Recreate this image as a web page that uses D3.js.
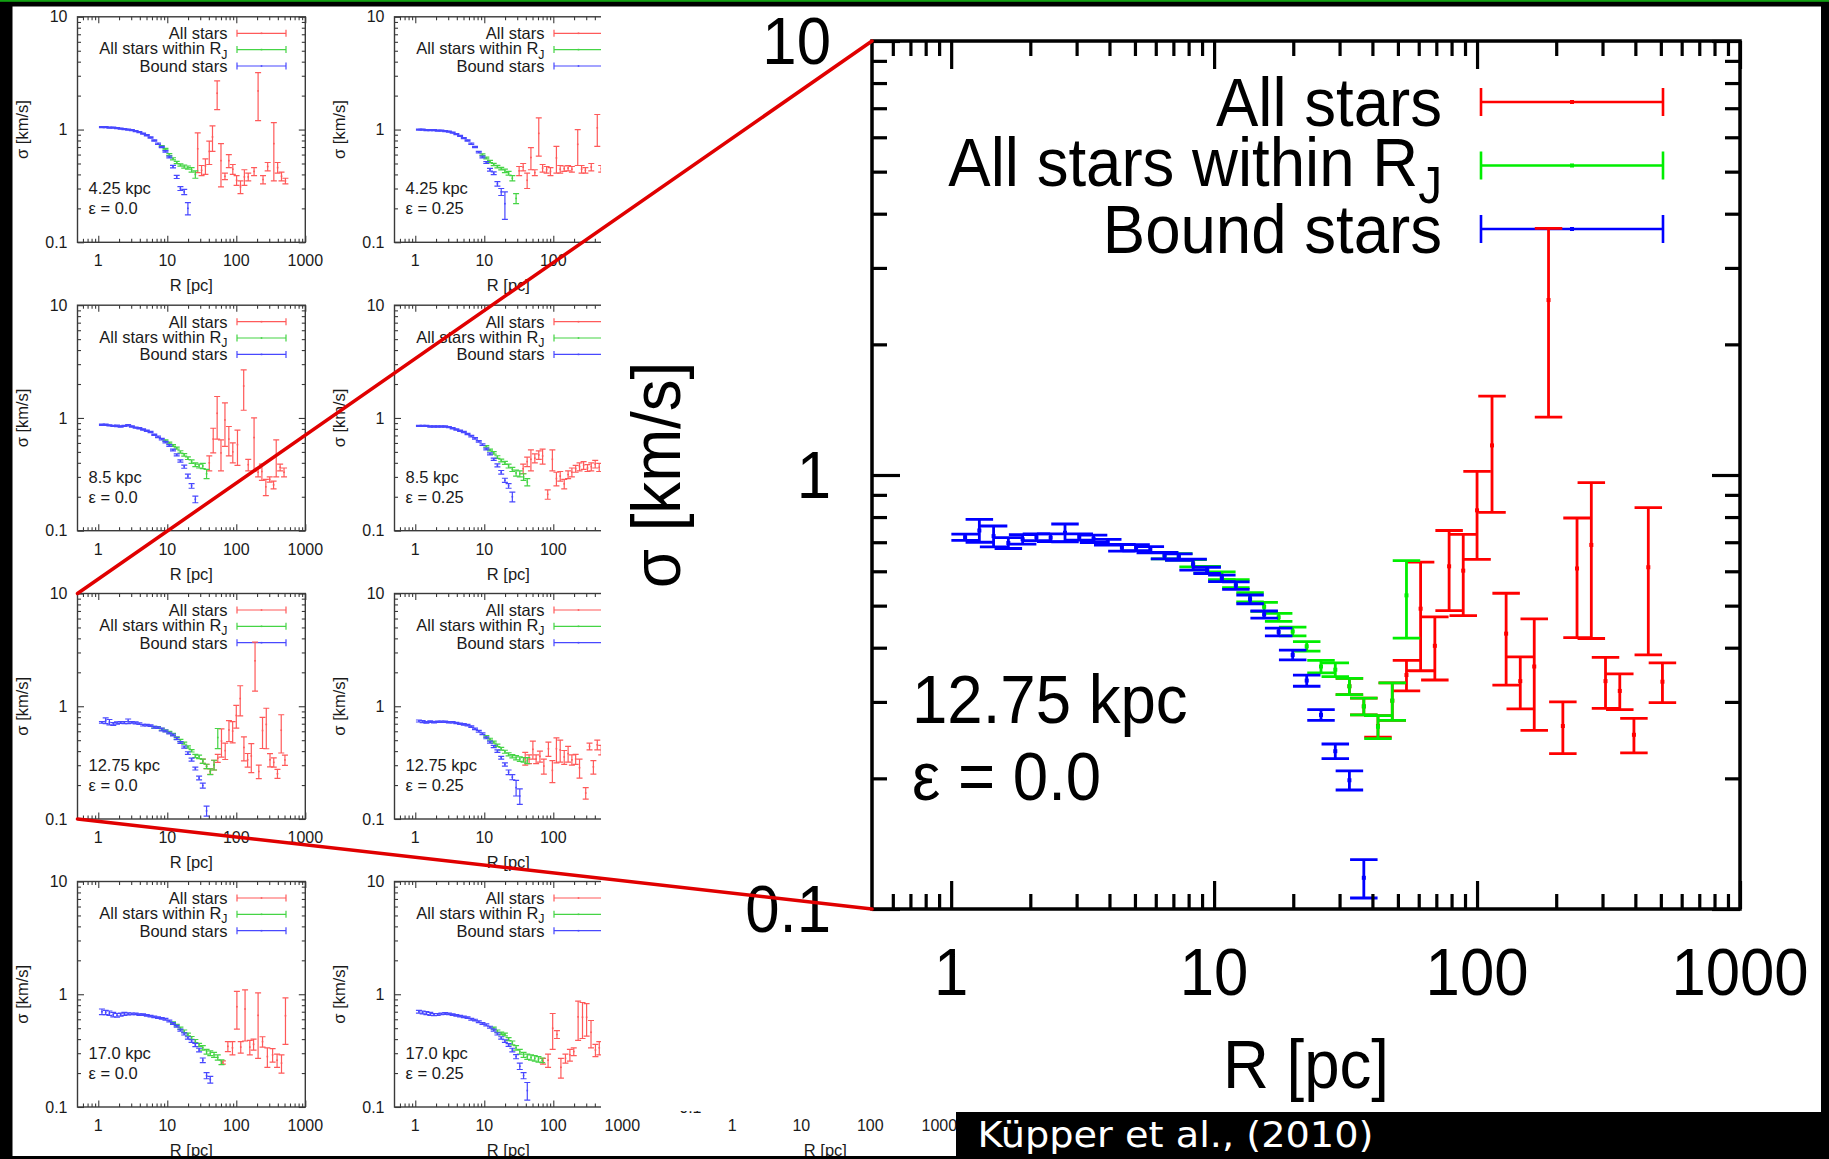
<!DOCTYPE html>
<html>
<head>
<meta charset="utf-8">
<script src="https://cdn.jsdelivr.net/npm/d3@7/dist/d3.min.js"></script>
<style>
html,body{margin:0;padding:0;background:#fff;}
svg{display:block;}
</style>
</head>
<body>
<svg id="chart" width="1829" height="1159"></svg>
<script>
// ---------------- DATA ----------------
const xTickValues = [1, 10, 100, 1000];
const xTickLabels = ["1", "10", "100", "1000"];
const yTickValues = [0.1, 1, 10];
const yTickLabels = ["0.1", "1", "10"];
const xAxisTitle = "R [pc]";
const yAxisTitle = "σ [km/s]";
const legendLabels = ["All stars", "All stars within R", "Bound stars"];
const legendSub = ["", "J", ""];
const distLabels = ["4.25 kpc", "4.25 kpc", "8.5 kpc", "8.5 kpc", "12.75 kpc", "12.75 kpc", "17.0 kpc", "17.0 kpc"];
const epsLabels = ["ε = 0.0", "ε = 0.25", "ε = 0.0", "ε = 0.25", "ε = 0.0", "ε = 0.25", "ε = 0.0", "ε = 0.25"];
const caption = "Küpper et al., (2010)";

// each point: [R (pc), sigma (km/s), error (km/s)]
const bound_425_e000 = [[1.13,1.05,0.012],[1.28,1.05,0.01],[1.45,1.04,0.01],[1.65,1.04,0.01],[1.87,1.03,0.01],[2.11,1.02,0.01],[2.39,1.01,0.01],[2.71,1.0,0.01],[3.07,0.99,0.01],[3.48,0.97,0.01],[3.94,0.95,0.01],[4.46,0.92,0.01],[5.05,0.89,0.01],[5.72,0.85,0.01],[6.48,0.8,0.01],[7.34,0.75,0.01],[8.32,0.7,0.01],[9.41,0.64,0.01],[10.7,0.57,0.01],[12.1,0.47,0.012],[13.7,0.38,0.012],[15.5,0.3,0.012],[17.6,0.28,0.015],[19.9,0.2,0.025]];
const within_425_e000 = [[8.32,0.71,0.01],[9.41,0.67,0.01],[10.7,0.6,0.012],[12.1,0.55,0.012],[13.7,0.51,0.012],[15.5,0.485,0.012],[17.6,0.47,0.015],[19.9,0.46,0.015],[22.5,0.44,0.02],[25.5,0.4,0.03]];
const all_425_e000 = [[27.6,0.675,0.26],[31.4,0.435,0.045],[35.7,0.475,0.075],[40.6,0.64,0.15],[45.2,0.86,0.22],[52.8,2.1,0.6],[60,0.53,0.22],[68.5,0.385,0.025],[78,0.53,0.07],[89,0.445,0.045],[101,0.355,0.035],[115,0.31,0.04],[131,0.38,0.06],[149,0.38,0.03],[181,0.425,0.035],[207,2.2,1.0],[244,0.36,0.03],[285,0.47,0.04],[350,0.75,0.4],[397,0.46,0.05],[452,0.385,0.035],[515,0.35,0.02]];

const bound_425_e025 = [[1.13,1.0,0.01],[1.28,1.0,0.01],[1.45,0.99,0.01],[1.65,0.99,0.01],[1.87,0.99,0.01],[2.11,0.98,0.01],[2.39,0.98,0.01],[2.71,0.97,0.01],[3.07,0.96,0.01],[3.48,0.94,0.01],[3.94,0.91,0.01],[4.46,0.88,0.01],[5.05,0.84,0.01],[5.72,0.8,0.01],[6.48,0.75,0.01],[7.34,0.7,0.01],[8.32,0.63,0.01],[9.41,0.57,0.01],[10.7,0.51,0.01],[12.1,0.44,0.012],[13.7,0.41,0.012],[15.5,0.33,0.015],[17.6,0.28,0.02],[19.9,0.22,0.06]];
const within_425_e025 = [[9.41,0.6,0.01],[10.7,0.56,0.01],[12.1,0.52,0.012],[13.7,0.49,0.012],[15.5,0.47,0.012],[17.6,0.45,0.012],[19.9,0.43,0.015],[22.5,0.41,0.015],[25.5,0.37,0.02],[28.9,0.245,0.025]];
const all_425_e025 = [[32,0.43,0.04],[36.6,0.465,0.035],[41.8,0.355,0.055],[47.4,0.565,0.125],[54,0.415,0.025],[61.6,0.925,0.345],[70,0.455,0.035],[80,0.44,0.03],[91,0.425,0.035],[111,0.56,0.15],[126,0.445,0.035],[144,0.45,0.025],[164,0.455,0.025],[186,0.445,0.025],[226,0.74,0.26],[257,0.445,0.035],[292,0.435,0.025],[355,0.465,0.035],[434,1.035,0.325],[495,0.45,0.03]];

const bound_850_e000 = [[1.13,0.87,0.012],[1.28,0.87,0.012],[1.45,0.86,0.01],[1.65,0.85,0.01],[1.87,0.85,0.012],[2.11,0.84,0.01],[2.39,0.85,0.01],[2.71,0.86,0.012],[3.07,0.84,0.01],[3.48,0.82,0.01],[3.94,0.81,0.01],[4.46,0.79,0.01],[5.05,0.77,0.01],[5.72,0.75,0.01],[6.48,0.71,0.01],[7.34,0.68,0.01],[8.32,0.65,0.01],[9.41,0.61,0.01],[10.7,0.57,0.01],[12.1,0.52,0.01],[13.7,0.47,0.01],[15.5,0.415,0.01],[17.6,0.37,0.012],[19.9,0.305,0.012],[22.5,0.25,0.012],[25.5,0.19,0.013]];
const within_850_e000 = [[9.41,0.63,0.01],[10.7,0.6,0.01],[12.1,0.57,0.01],[13.7,0.54,0.012],[15.5,0.5,0.012],[17.6,0.47,0.012],[19.9,0.44,0.012],[22.5,0.41,0.015],[25.5,0.385,0.015],[28.9,0.375,0.015],[32.7,0.375,0.02],[37.1,0.32,0.03]];
const all_850_e000 = [[40.6,0.4,0.06],[46.3,0.65,0.16],[52.8,1.1,0.45],[60,0.49,0.15],[68.5,0.96,0.4],[78,0.65,0.19],[89,0.5,0.1],[104,0.58,0.2],[128,1.92,0.75],[149,0.385,0.045],[181,0.67,0.33],[207,0.33,0.03],[235,0.335,0.055],[268,0.245,0.04],[305,0.285,0.015],[347,0.255,0.02],[379,0.47,0.17],[432,0.365,0.025],[492,0.33,0.03]];

const bound_850_e025 = [[1.13,0.85,0.01],[1.28,0.85,0.01],[1.45,0.85,0.01],[1.65,0.84,0.01],[1.87,0.84,0.01],[2.11,0.84,0.01],[2.39,0.84,0.01],[2.71,0.84,0.01],[3.07,0.83,0.01],[3.48,0.81,0.01],[3.94,0.79,0.01],[4.46,0.77,0.01],[5.05,0.75,0.01],[5.72,0.72,0.01],[6.48,0.69,0.01],[7.34,0.66,0.01],[8.32,0.62,0.01],[9.41,0.58,0.01],[10.7,0.53,0.01],[12.1,0.48,0.01],[13.7,0.43,0.01],[15.5,0.38,0.012],[17.6,0.33,0.012],[19.9,0.28,0.012],[22.5,0.25,0.012],[25.5,0.2,0.02]];
const within_850_e025 = [[10.7,0.56,0.01],[12.1,0.52,0.01],[13.7,0.49,0.012],[15.5,0.45,0.012],[17.6,0.42,0.012],[19.9,0.4,0.012],[22.5,0.375,0.015],[25.5,0.35,0.015],[28.9,0.325,0.02],[32.7,0.32,0.02],[37.1,0.3,0.02],[42.0,0.27,0.02]];
const all_850_e025 = [[36.6,0.355,0.035],[41.8,0.41,0.04],[47.4,0.43,0.09],[54,0.44,0.04],[61.6,0.47,0.04],[70,0.46,0.07],[83,0.21,0.02],[97,0.43,0.09],[111,0.29,0.04],[126,0.305,0.03],[144,0.26,0.025],[164,0.315,0.025],[186,0.33,0.03],[211,0.355,0.025],[240,0.37,0.03],[275,0.38,0.03],[313,0.36,0.025],[355,0.37,0.03],[405,0.39,0.03],[463,0.365,0.03]];

const bound_1275_e000 = [[1.13,0.719,0.012],[1.28,0.745,0.045],[1.45,0.723,0.04],[1.65,0.697,0.02],[1.87,0.711,0.018],[2.11,0.719,0.013],[2.39,0.717,0.015],[2.71,0.736,0.035],[3.07,0.72,0.012],[3.48,0.713,0.014],[3.94,0.70,0.011],[4.46,0.68,0.012],[5.05,0.68,0.011],[5.72,0.673,0.011],[6.48,0.652,0.011],[7.34,0.647,0.011],[8.32,0.622,0.018],[9.41,0.603,0.01],[10.7,0.578,0.01],[12.1,0.556,0.011],[13.7,0.517,0.012],[15.5,0.477,0.009],[17.6,0.435,0.009],[19.9,0.385,0.01],[22.5,0.336,0.01],[25.5,0.28,0.008],[28.9,0.231,0.009],[32.7,0.198,0.01],[37.1,0.118,0.012]];
const within_1275_e000 = [[6.48,0.652,0.011],[7.34,0.648,0.011],[8.32,0.626,0.012],[9.41,0.605,0.011],[10.7,0.586,0.012],[12.1,0.562,0.012],[13.7,0.523,0.013],[15.5,0.497,0.012],[17.6,0.47,0.01],[19.9,0.436,0.01],[22.5,0.403,0.01],[25.5,0.362,0.012],[28.9,0.356,0.013],[32.7,0.326,0.014],[37.1,0.293,0.013],[42.0,0.263,0.016],[47.6,0.302,0.03],[53.9,0.528,0.107]];
const all_1275_e000 = [[32.7,0.326,0.014],[37.1,0.293,0.013],[42.0,0.264,0.015],[47.6,0.302,0.03],[53.9,0.346,0.028],[61.0,0.492,0.138],[69.1,0.404,0.067],[78.3,0.616,0.129],[88.6,0.602,0.128],[100,0.829,0.19],[114,1.17,0.35],[129,0.431,0.103],[146,0.335,0.046],[165,0.362,0.104],[187,2.53,1.17],[212,0.264,0.036],[240,0.609,0.187],[272,0.69,0.27],[308,0.335,0.045],[349,0.318,0.03],[395,0.252,0.023],[448,0.613,0.228],[507,0.334,0.035]];

const bound_1275_e025 = [[1.13,0.74,0.015],[1.28,0.73,0.015],[1.45,0.72,0.012],[1.65,0.73,0.012],[1.87,0.72,0.01],[2.11,0.73,0.01],[2.39,0.73,0.01],[2.71,0.73,0.01],[3.07,0.72,0.01],[3.48,0.72,0.01],[3.94,0.71,0.01],[4.46,0.7,0.01],[5.05,0.69,0.01],[5.72,0.68,0.01],[6.48,0.66,0.01],[7.34,0.63,0.01],[8.32,0.6,0.01],[9.41,0.57,0.01],[10.7,0.525,0.01],[12.1,0.48,0.01],[13.7,0.44,0.01],[15.5,0.4,0.01],[17.6,0.35,0.01],[19.9,0.305,0.01],[22.5,0.26,0.012],[25.5,0.235,0.012],[28.9,0.19,0.03],[32.7,0.16,0.025]];
const within_1275_e025 = [[10.7,0.54,0.01],[12.1,0.51,0.01],[13.7,0.48,0.01],[15.5,0.45,0.012],[17.6,0.42,0.012],[19.9,0.395,0.012],[22.5,0.375,0.012],[25.5,0.36,0.012],[28.9,0.35,0.015],[32.7,0.34,0.015],[37.1,0.335,0.015],[42.0,0.33,0.02]];
const all_1275_e025 = [[39.2,0.345,0.045],[44.6,0.34,0.03],[50.6,0.415,0.075],[56.4,0.34,0.03],[64,0.36,0.04],[73,0.295,0.045],[85,0.42,0.06],[97,0.27,0.06],[111,0.42,0.105],[126,0.41,0.09],[144,0.355,0.05],[164,0.38,0.06],[186,0.335,0.035],[211,0.34,0.035],[240,0.285,0.055],[295,0.17,0.02],[335,0.44,0.03],[381,0.29,0.04],[434,0.455,0.045],[495,0.41,0.04]];

const bound_1700_e000 = [[1.13,0.7,0.04],[1.28,0.69,0.03],[1.45,0.68,0.03],[1.65,0.66,0.03],[1.87,0.65,0.025],[2.11,0.66,0.02],[2.39,0.67,0.02],[2.71,0.67,0.015],[3.07,0.67,0.012],[3.48,0.67,0.01],[3.94,0.66,0.01],[4.46,0.66,0.01],[5.05,0.65,0.01],[5.72,0.64,0.01],[6.48,0.63,0.01],[7.34,0.62,0.01],[8.32,0.61,0.01],[9.41,0.6,0.01],[10.7,0.58,0.01],[12.1,0.55,0.01],[13.7,0.52,0.01],[15.5,0.48,0.01],[17.6,0.445,0.01],[19.9,0.41,0.01],[22.5,0.385,0.01],[25.5,0.355,0.012],[28.9,0.32,0.012],[32.7,0.26,0.012],[37.1,0.19,0.012],[42.0,0.175,0.012]];
const within_1700_e000 = [[12.1,0.56,0.01],[13.7,0.53,0.01],[15.5,0.5,0.012],[17.6,0.47,0.012],[19.9,0.44,0.012],[22.5,0.41,0.012],[25.5,0.385,0.012],[28.9,0.355,0.012],[32.7,0.335,0.015],[37.1,0.31,0.015],[42.0,0.3,0.015],[47.6,0.29,0.015],[53.9,0.275,0.015],[61.0,0.25,0.012]];
const all_1700_e000 = [[63.9,0.248,0.008],[75.5,0.345,0.035],[88,0.335,0.045],[102,0.775,0.285],[116,0.34,0.04],[134,0.74,0.355],[157,0.34,0.05],[178,0.36,0.04],[207,0.65,0.38],[240,0.38,0.04],[282,0.28,0.055],[336,0.29,0.04],[390,0.26,0.035],[452,0.245,0.045],[516,0.645,0.285]];

const bound_1700_e025 = [[1.13,0.7,0.02],[1.28,0.69,0.02],[1.45,0.68,0.02],[1.65,0.67,0.02],[1.87,0.66,0.015],[2.11,0.66,0.012],[2.39,0.67,0.012],[2.71,0.675,0.012],[3.07,0.67,0.01],[3.48,0.66,0.01],[3.94,0.65,0.01],[4.46,0.64,0.01],[5.05,0.63,0.01],[5.72,0.62,0.01],[6.48,0.6,0.01],[7.34,0.59,0.01],[8.32,0.57,0.01],[9.41,0.55,0.01],[10.7,0.535,0.01],[12.1,0.51,0.01],[13.7,0.48,0.01],[15.5,0.445,0.01],[17.6,0.41,0.01],[19.9,0.385,0.01],[22.5,0.355,0.01],[25.5,0.32,0.012],[28.9,0.28,0.012],[32.7,0.23,0.015],[37.1,0.19,0.012],[42.0,0.14,0.025]];
const within_1700_e025 = [[13.7,0.5,0.01],[15.5,0.47,0.012],[17.6,0.45,0.012],[19.9,0.44,0.012],[22.5,0.4,0.012],[25.5,0.37,0.015],[28.9,0.335,0.015],[32.7,0.31,0.015],[37.1,0.29,0.015],[42.0,0.28,0.015],[47.6,0.275,0.015],[53.9,0.27,0.015],[61.0,0.265,0.015],[69.1,0.26,0.012]];
const all_1700_e025 = [[71,0.255,0.015],[84,0.26,0.035],[98,0.5,0.175],[113,0.44,0.035],[129,0.225,0.045],[150,0.27,0.025],[174,0.29,0.035],[198,0.31,0.025],[229,0.63,0.24],[265,0.625,0.22],[304,0.625,0.2],[352,0.46,0.125],[408,0.32,0.04],[464,0.335,0.045]];

// ---------------- DRAWING ----------------
const panelSeries = [
  {all: all_425_e000, within: within_425_e000, bound: bound_425_e000},
  {all: all_425_e025, within: within_425_e025, bound: bound_425_e025},
  {all: all_850_e000, within: within_850_e000, bound: bound_850_e000},
  {all: all_850_e025, within: within_850_e025, bound: bound_850_e025},
  {all: all_1275_e000, within: within_1275_e000, bound: bound_1275_e000},
  {all: all_1275_e025, within: within_1275_e025, bound: bound_1275_e025},
  {all: all_1700_e000, within: within_1700_e000, bound: bound_1700_e000},
  {all: all_1700_e025, within: within_1700_e025, bound: bound_1700_e025}
];

const FONT = "'Liberation Sans', Arial, Helvetica, sans-serif";
const svg = d3.select("#chart");

const smallCfg = {
  w: 227.8, h: 225.5, frameColor: "#3a3a3a", frameW: 1.4, tickW: 1.1, tickMaj: 6.5, tickMin: 3.5,
  fs: 16.5, tickFs: 16, condense: 1, capW: 6, barW: 1.2, dot: 1.6,
  colors: ["#ff5a5a", "#45d445", "#4848ff"], legRight: 150, legRows: [16.5, 32.8, 49.2],
  sample: [159.5, 208.5], sampleTick: 3.5, sampleW: 1.2, annotX: 11, annotBase: [177.6, 197.6],
  xLabBase: 24, xTitleBase: 274.5, yLabRight: -10, yTitleX: -56, textColor: "#1a1a1a"
};
const bigCfg = {
  w: 868, h: 868, frameColor: "#000", frameW: 3.5, tickW: 3.2, tickMaj: 28, tickMin: 15,
  fs: 68, tickFs: 66, condense: 0.935, capW: 27.5, barW: 2.8, dot: 4,
  colors: ["#ff0000", "#00ee00", "#0000ff"], legRight: 570, legRows: [61, 124.5, 188],
  sample: [609, 791], sampleTick: 14, sampleW: 2.6, annotX: 40, annotBase: [682, 759],
  xLabBase: 86, xTitleBase: 1047, yLabRight: -41, yTitleX: -216, textColor: "#000"
};

function drawPanel(parent, cfg, x0, y0, series, dist, eps, ghost) {
  const g = parent.append("g").attr("transform", `translate(${x0},${y0})`);
  const x = d3.scaleLog().domain([0.5, 1000]).range([0, cfg.w]);
  const y = d3.scaleLog().domain([0.1, 10]).range([cfg.h, 0]);
  const isMajor = (v, list) => list.some(m => Math.abs(m - v) / m < 1e-6);
  const xMinor = x.ticks().filter(v => !isMajor(v, xTickValues) && v > 0.5001 && v < 999);
  const yMinor = y.ticks().filter(v => !isMajor(v, yTickValues) && v > 0.1001 && v < 9.99);

  const txt = (px, py, str, size, anchor, extra) => g.append("text")
    .attr("transform", `translate(${px},${py}) ${extra || ""} scale(${cfg.condense},1)`)
    .attr("font-family", FONT).attr("font-size", size).attr("fill", cfg.textColor)
    .attr("text-anchor", anchor).text(str);

  // legend (drawn below the data)
  if (!ghost) {
    legendLabels.forEach((lab, i) => {
      const ly = cfg.legRows[i];
      const t = txt(cfg.legRight, ly + 0.355 * cfg.fs - (legendSub[i] ? 0.06 * cfg.fs : 0), lab, cfg.fs, "end");
      if (legendSub[i]) t.append("tspan").attr("font-size", cfg.fs * 0.75).attr("dy", cfg.fs * 0.25).text(legendSub[i]);
      const s0 = cfg.sample[0], s1 = cfg.sample[1], st = cfg.sampleTick;
      g.append("path")
        .attr("d", `M${s0},${ly}H${s1}M${s0},${ly - st}V${ly + st}M${s1},${ly - st}V${ly + st}`)
        .attr("fill", "none").attr("stroke", cfg.colors[i]).attr("stroke-width", cfg.sampleW);
      g.append("rect").attr("x", (s0 + s1) / 2 - cfg.dot / 2).attr("y", ly - cfg.dot / 2)
        .attr("width", cfg.dot).attr("height", cfg.dot).attr("fill", cfg.colors[i]);
    });
  }

  // data
  if (!ghost) {
    ["all", "within", "bound"].forEach((k, i) => {
      const col = cfg.colors[i];
      const sg = g.append("g");
      sg.selectAll("path").data(series[k]).join("path")
        .attr("d", d => {
          const cx = x(d[0]), yt = y(d[1] + d[2]), yb = y(Math.max(d[1] - d[2], 0.1)), c = cfg.capW / 2;
          return `M${cx - c},${yt}H${cx + c}M${cx},${yt}V${yb}M${cx - c},${yb}H${cx + c}`;
        })
        .attr("fill", "none").attr("stroke", col).attr("stroke-width", cfg.barW);
      sg.selectAll("rect").data(series[k]).join("rect")
        .attr("x", d => x(d[0]) - cfg.dot / 2).attr("y", d => y(d[1]) - cfg.dot / 2)
        .attr("width", cfg.dot).attr("height", cfg.dot).attr("fill", col);
    });
  }

  // axes ticks (inward, mirrored)
  const styleAxis = s => {
    s.select(".domain").remove();
    s.selectAll(".tick text").remove();
    s.selectAll(".tick line").attr("stroke", cfg.frameColor).attr("stroke-width", cfg.tickW);
  };
  const axes = [
    [d3.axisBottom, x, xTickValues, cfg.tickMaj, `translate(0,${cfg.h})`],
    [d3.axisBottom, x, xMinor, cfg.tickMin, `translate(0,${cfg.h})`],
    [d3.axisTop, x, xTickValues, cfg.tickMaj, "translate(0,0)"],
    [d3.axisTop, x, xMinor, cfg.tickMin, "translate(0,0)"],
    [d3.axisLeft, y, yTickValues, cfg.tickMaj, "translate(0,0)"],
    [d3.axisLeft, y, yMinor, cfg.tickMin, "translate(0,0)"],
    [d3.axisRight, y, yTickValues, cfg.tickMaj, `translate(${cfg.w},0)`],
    [d3.axisRight, y, yMinor, cfg.tickMin, `translate(${cfg.w},0)`]
  ];
  axes.forEach(([fn, sc, vals, len, tr]) => {
    g.append("g").attr("transform", tr)
      .call(fn(sc).tickValues(vals).tickSize(-len).tickFormat(""))
      .call(styleAxis);
  });
  g.append("rect").attr("x", 0).attr("y", 0).attr("width", cfg.w).attr("height", cfg.h)
    .attr("fill", "none").attr("stroke", cfg.frameColor).attr("stroke-width", cfg.frameW);

  // tick labels & titles
  xTickValues.forEach((v, i) => txt(x(v), cfg.h + cfg.xLabBase, xTickLabels[i], cfg.tickFs, "middle"));
  yTickValues.forEach((v, i) => txt(cfg.yLabRight, y(v) + 0.355 * cfg.tickFs, yTickLabels[i], cfg.tickFs, "end"));
  txt(cfg.w / 2, cfg.xTitleBase, xAxisTitle, cfg.fs, "middle");
  g.append("text")
    .attr("transform", `translate(${cfg.yTitleX},${cfg.h / 2}) rotate(-90) scale(${cfg.condense},1)`)
    .attr("font-family", FONT).attr("font-size", cfg.fs).attr("fill", cfg.textColor)
    .attr("text-anchor", "middle").attr("dominant-baseline", "central").text(yAxisTitle);

  if (!ghost) {
    txt(cfg.annotX, cfg.annotBase[0], dist, cfg.fs, "start");
    txt(cfg.annotX, cfg.annotBase[1], eps, cfg.fs, "start");
  }
}

// page background
svg.append("rect").attr("width", 1829).attr("height", 1159).attr("fill", "#fff");

// small panels grid
const colX = [77.5, 394.5, 711.5];
const rowY = [16.8, 305.2, 593.5, 881.5];
panelSeries.forEach((s, i) => {
  const r = Math.floor(i / 2), c = i % 2;
  drawPanel(svg, smallCfg, colX[c], rowY[r], s, distLabels[i], epsLabels[i], false);
});
// hidden third column (only its bottom labels peek out)
drawPanel(svg, smallCfg, colX[2], rowY[3], null, "", "", true);

// white inset holding the enlarged panel
svg.append("rect").attr("x", 601).attr("y", 7).attr("width", 1220).attr("height", 1104).attr("fill", "#fff");

// enlarged panel (same data as 12.75 kpc, eps = 0.0)
drawPanel(svg, bigCfg, 872, 41, panelSeries[4], distLabels[4], epsLabels[4], false);

// zoom connector lines
const connectors = [
  [[colX[0], rowY[2]], [872, 41]],
  [[colX[0], rowY[2] + smallCfg.h], [872, 41 + bigCfg.h]]
];
svg.append("g").selectAll("line").data(connectors).join("line")
  .attr("x1", d => d[0][0]).attr("y1", d => d[0][1])
  .attr("x2", d => d[1][0]).attr("y2", d => d[1][1])
  .attr("stroke", "#e00000").attr("stroke-width", 3.5).attr("stroke-linecap", "round");

// slide borders
svg.append("rect").attr("x", 0).attr("y", 0).attr("width", 12.5).attr("height", 1159).attr("fill", "#000");
svg.append("rect").attr("x", 1821).attr("y", 0).attr("width", 8).attr("height", 1159).attr("fill", "#000");
svg.append("rect").attr("x", 0).attr("y", 0).attr("width", 1829).attr("height", 6.5).attr("fill", "#000");
svg.append("rect").attr("x", 0).attr("y", 0).attr("width", 1829).attr("height", 1.8).attr("fill", "#12a012");
svg.append("rect").attr("x", 0).attr("y", 1156).attr("width", 1829).attr("height", 3).attr("fill", "#000");

// caption
svg.append("rect").attr("x", 956).attr("y", 1112).attr("width", 873).attr("height", 47).attr("fill", "#000");
svg.append("text").attr("x", 977.5).attr("y", 1147)
  .attr("font-family", "'DejaVu Sans', Verdana, sans-serif").attr("font-size", 35)
  .attr("textLength", 396).attr("lengthAdjust", "spacingAndGlyphs")
  .attr("fill", "#fff").text(caption);
</script>
</body>
</html>
